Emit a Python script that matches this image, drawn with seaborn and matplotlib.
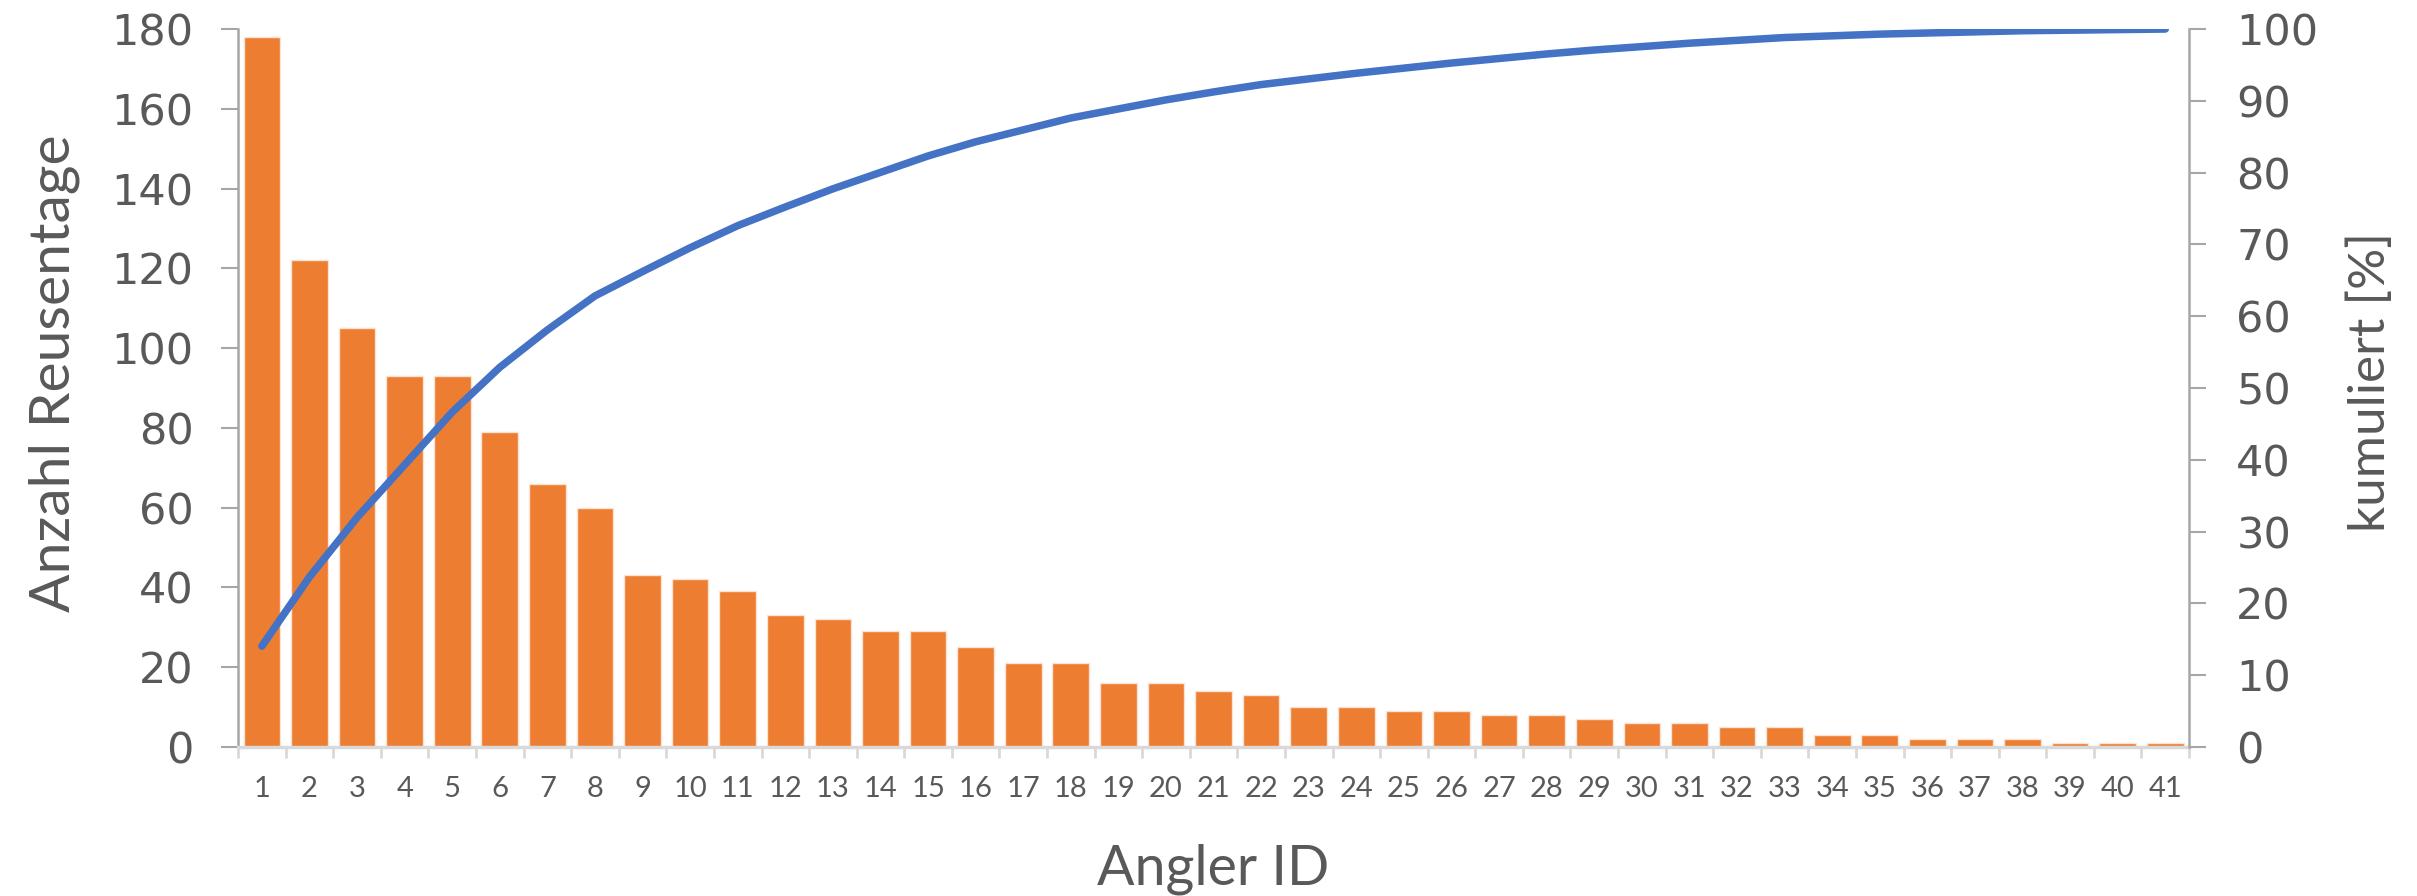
import numpy as np
import pandas as pd
import matplotlib
matplotlib.use("Agg")
import matplotlib.pyplot as plt
from matplotlib.ticker import FixedLocator
import seaborn as sns

# Reusentage per angler, sorted descending (Pareto)
angler_ids = [str(i) for i in range(1, 42)]
reusentage = [178, 122, 105, 93, 93, 79, 66, 60, 43, 42, 39, 33, 32, 29, 29,
              25, 21, 21, 16, 16, 14, 13, 10, 10, 9, 9, 8, 8, 7, 6,
              6, 5, 5, 3, 3, 2, 2, 2, 1, 1, 1]
left_ticks = [0, 20, 40, 60, 80, 100, 120, 140, 160, 180]
right_ticks = [0, 10, 20, 30, 40, 50, 60, 70, 80, 90, 100]

df = pd.DataFrame({"Angler ID": angler_ids, "Anzahl": reusentage})
df["pos"] = np.arange(len(df))
df["kumuliert"] = df["Anzahl"].cumsum() / df["Anzahl"].sum() * 100

ORANGE = "#ED7D31"
BLUE = "#4472C4"
TEXT = "#595959"
AXIS = "#A6A6A6"
XAXIS = "#D9D9D9"

sns.set_theme(style="white")
plt.rcParams["font.family"] = ["Lato", "DejaVu Sans"]

fig = plt.figure(figsize=(24.17, 8.96), dpi=100)
ax = fig.add_axes([0.0985, 0.1663, 0.8072, 0.8013])

sns.barplot(data=df, x="Angler ID", y="Anzahl", color=ORANGE, saturation=1,
            width=0.77, edgecolor="#FBE3D3", linewidth=1.0, ax=ax)

ax2 = ax.twinx()
sns.lineplot(data=df, x="pos", y="kumuliert", color=BLUE, linewidth=5.4,
             solid_capstyle="round", solid_joinstyle="round", ax=ax2)

ax.set_xlim(-0.5, len(df) - 0.5)
ax.set_ylim(0, 180)
ax2.set_ylim(0, 100)

# left axis
ax.yaxis.set_major_locator(FixedLocator(left_ticks))
ax.set_yticklabels([str(t) for t in left_ticks], family="DejaVu Sans",
                   fontsize=31, color=TEXT)
ax.tick_params(axis="y", which="major", direction="out", length=12, width=1.5,
               color=AXIS, pad=20, left=True)

# right axis
ax2.yaxis.set_major_locator(FixedLocator(right_ticks))
ax2.set_yticklabels([str(t) for t in right_ticks], family="DejaVu Sans",
                    fontsize=31, color=TEXT)
ax2.tick_params(axis="y", which="major", direction="out", length=12, width=1.5,
                color=AXIS, pad=22, right=True)

# category axis: tick marks on the bar boundaries, labels at the centres
ax.xaxis.set_major_locator(FixedLocator(np.arange(-0.5, len(df), 1.0)))
ax.xaxis.set_minor_locator(FixedLocator(df["pos"].values))
ax.set_xticklabels([""] * (len(df) + 1))
ax.set_xticklabels(angler_ids, minor=True, fontsize=21, color=TEXT)
ax.tick_params(axis="x", which="major", direction="out", length=8, width=2,
               color=XAXIS, bottom=True)
ax.tick_params(axis="x", which="minor", length=0, pad=21, bottom=True)

for a in (ax, ax2):
    a.spines["top"].set_visible(False)
    a.grid(False)
ax.spines["left"].set_color(AXIS)
ax.spines["left"].set_linewidth(1.8)
ax.spines["right"].set_visible(False)
ax.spines["bottom"].set_color(XAXIS)
ax.spines["bottom"].set_linewidth(2.5)
ax2.spines["left"].set_visible(False)
ax2.spines["bottom"].set_visible(False)
ax2.spines["right"].set_color(AXIS)
ax2.spines["right"].set_linewidth(1.8)

ax.set_xlabel("Angler ID", fontsize=40, color=TEXT)
ax.set_ylabel("Anzahl Reusentage", fontsize=41, color=TEXT)
ax2.set_xlabel("")
ax2.set_ylabel("kumuliert [%]", fontsize=37, color=TEXT)
ax.xaxis.set_label_coords(0.5, -0.134)
ax.yaxis.set_label_coords(-0.081, 0.52)
ax2.yaxis.set_label_coords(1.081, 0.508)

fig.savefig("out.png", dpi=100, facecolor="white")
